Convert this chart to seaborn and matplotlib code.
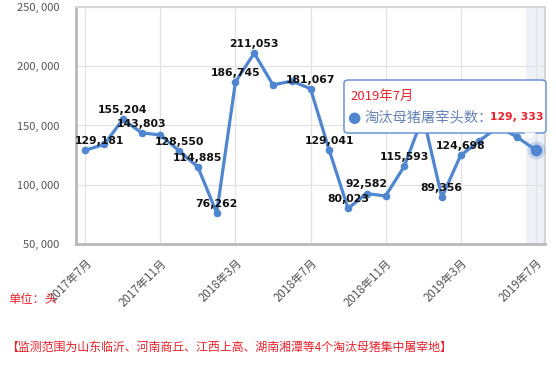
import matplotlib
matplotlib.use('Agg')
import matplotlib.pyplot as plt
import matplotlib.ticker as mticker
from matplotlib.patches import FancyBboxPatch, Polygon
import seaborn as sns
import pandas as pd

# monthly data, 2017-07 .. 2019-07
months = ['2017年7月', '2017年8月', '2017年9月', '2017年10月', '2017年11月', '2017年12月',
          '2018年1月', '2018年2月', '2018年3月', '2018年4月', '2018年5月', '2018年6月',
          '2018年7月', '2018年8月', '2018年9月', '2018年10月', '2018年11月', '2018年12月',
          '2019年1月', '2019年2月', '2019年3月', '2019年4月', '2019年5月', '2019年6月',
          '2019年7月']
heads = [129181, 134000, 155204, 143803, 142000, 128550,
         114885, 76262, 186745, 211053, 184200, 187500,
         181067, 129041, 80023, 92582, 90500, 115593,
         158000, 89356, 124698, 137000, 149000, 140400,
         129333]
labelled = [0, 2, 3, 5, 6, 7, 8, 9, 12, 13, 14, 15, 17, 19, 20]
tick_idx = [0, 4, 8, 12, 16, 20, 24]

series_name = '淘汰母猪屠宰头数'
unit_note = '单位：头'
scope_note = '【监测范围为山东临沂、河南商丘、江西上高、湖南湘潭等4个淘汰母猪集中屠宰地】'

blue = '#4f86cf'
red = '#e8212b'

df = pd.DataFrame({'i': range(len(months)), 'month': months, 'heads': heads})

sns.set_style('white')
plt.rcParams['font.family'] = ['Noto Sans CJK SC', 'DejaVu Sans']

fig = plt.figure(figsize=(5.56, 3.66), dpi=100)
ax = fig.add_axes([76/556, 1-244/366, (545-76)/556, (244-7)/366])

# hover shadow on the last category
ax.axvspan(23.5, 24.5, color='#eef1f8', zorder=0, lw=0)

sns.lineplot(data=df, x='i', y='heads', ax=ax, color=blue, lw=2.3,
             marker='o', markersize=5.5, markeredgewidth=0, zorder=3)

# highlighted last point
last = df.iloc[-1]
ax.scatter([last['i']], [last['heads']], s=170, color=blue, alpha=0.25, lw=0, zorder=4)
ax.scatter([last['i']], [last['heads']], s=70, color=blue, lw=0, zorder=5)

for i in labelled:
    dx = 10 if i == 0 else 0
    ax.annotate(f"{heads[i]:,}", (i, heads[i]), xytext=(dx, 3), textcoords='offset points',
                ha='center', va='bottom', fontsize=7.8, fontweight='bold',
                family='DejaVu Sans', color='#111111', zorder=6)

ax.set_xlim(-0.5, 24.5)
ax.set_ylim(50000, 250000)
ax.set_yticks(range(50000, 250001, 50000))
ax.yaxis.set_major_formatter(mticker.FuncFormatter(lambda v, p: f"{v:,.0f}".replace(',', ', ')))
ax.set_xticks(tick_idx)
ax.set_xticklabels([months[i] for i in tick_idx], rotation=45, ha='right',
                   rotation_mode='anchor')
ax.tick_params(axis='x', labelsize=8.3, colors='#555555', length=3, pad=6, color='#cccccc')
ax.tick_params(axis='y', labelsize=8, colors='#555555', length=0, pad=12)
ax.set_xlabel('')
ax.set_ylabel('')
ax.grid(True, color='#e3e3e3', lw=0.9)
ax.set_axisbelow(True)
for s in ['top', 'right']:
    ax.spines[s].set_color('#d6d6d6')
    ax.spines[s].set_linewidth(1.5)
for s in ['left', 'bottom']:
    ax.spines[s].set_color('#b9b9b9')
    ax.spines[s].set_linewidth(2)

# tooltip
x0, y0, x1, y1 = 344/556, 1-133/366, 546/556, 1-80/366
box = FancyBboxPatch((x0, y0), x1-x0, y1-y0, boxstyle='round,pad=0,rounding_size=0.008',
                     transform=fig.transFigure, facecolor='white', edgecolor='#5a8ad0',
                     lw=1, zorder=10)
fig.patches.append(box)
tri = Polygon([(524/556, y0+0.0015), (536/556, y0+0.0015), (530/556, 1-139/366)],
              closed=True, transform=fig.transFigure, facecolor='white',
              edgecolor='none', zorder=11)
fig.patches.append(tri)
fig.text(350/556, 1-96/366, months[-1], color=red, fontsize=9.5, va='center', zorder=12)
fig.text(347/556, 1-117/366, '●', color=blue, fontsize=11, va='center',
         family='DejaVu Sans', zorder=12)
fig.text(364/556, 1-117/366, series_name + '：', color='#6683b5', fontsize=10.3,
         va='center', zorder=12)
fig.text(490/556, 1-117/366, f"{heads[-1]:,}".replace(',', ', '), color=red, fontsize=7.8,
         fontweight='bold', va='center', family='DejaVu Sans', zorder=12)

fig.text(8/556, 1-300/366, unit_note, color=red, fontsize=8.8, va='center')
fig.text(6/556, 1-347/366, scope_note, color=red, fontsize=8.6, va='center')

fig.savefig('out.png', dpi=100)
